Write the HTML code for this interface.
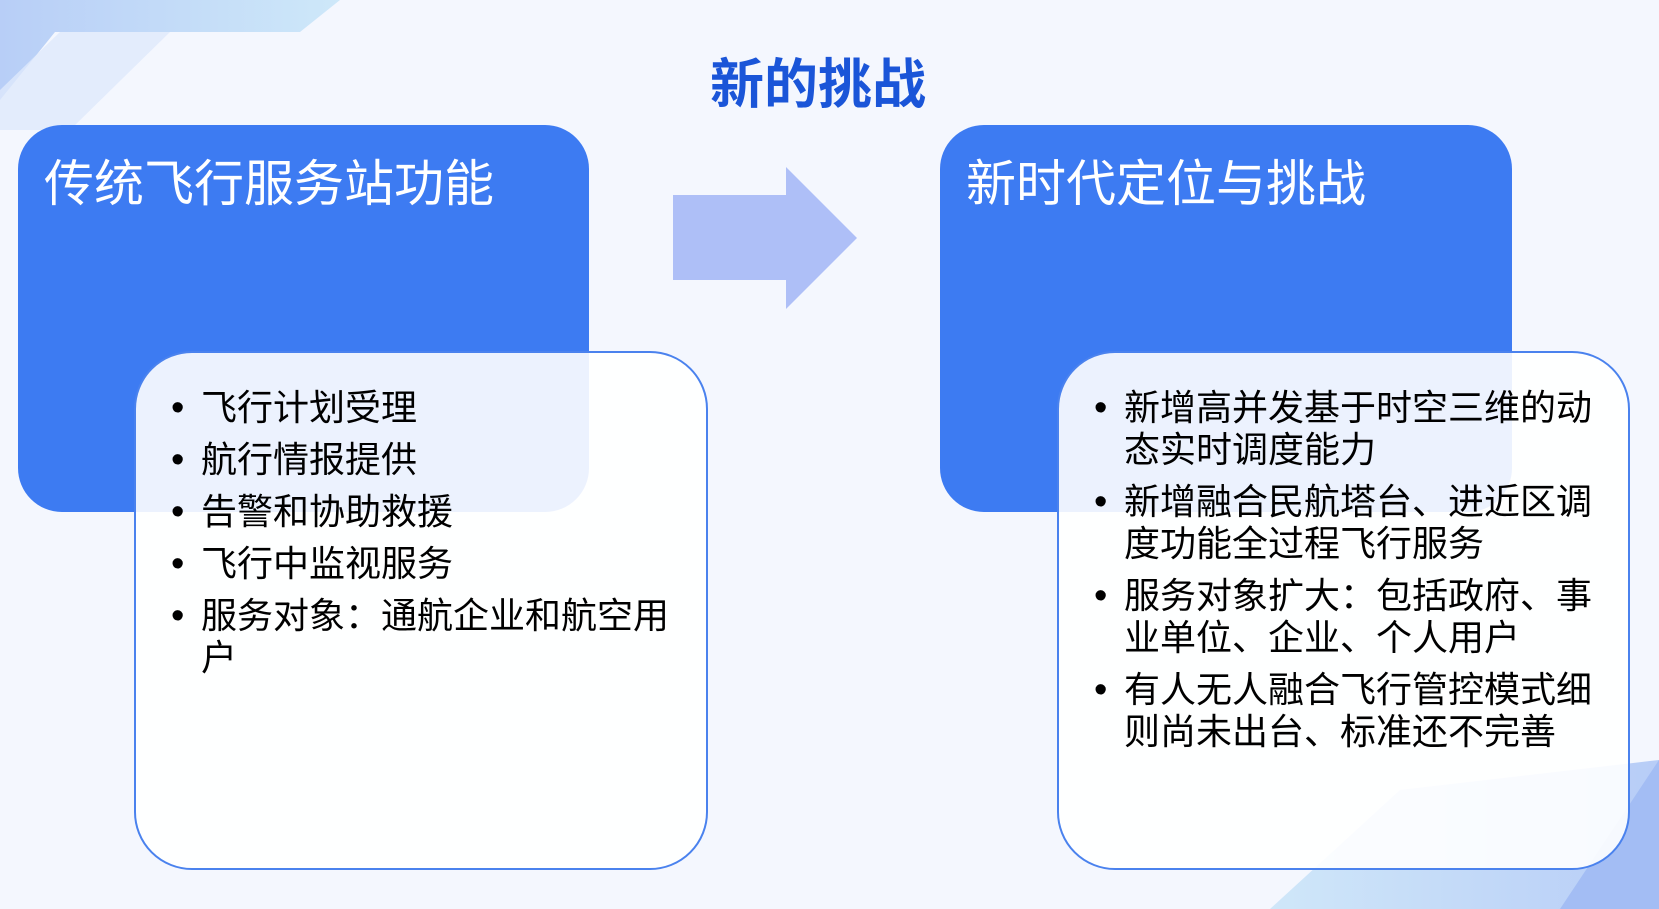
<!DOCTYPE html>
<html><head><meta charset="utf-8"><style>
*{margin:0;padding:0;box-sizing:border-box}
body{width:1659px;height:909px;overflow:hidden;background:#f4f7fe;position:relative;font-family:"Liberation Sans","Noto Sans CJK SC",sans-serif}
.abs{position:absolute}
.blue{background:#3d7bf2;border-radius:44px}
.white{background:rgba(255,255,255,0.9);border:2px solid #4a82ee;border-radius:58px}
.h{color:#fff;font-size:50px;position:absolute;white-space:nowrap}
ul{list-style:none;position:absolute;font-size:36px;color:#000}
li{position:relative;line-height:42px;margin-bottom:10px}
li:before{content:"•";position:absolute;left:-30px;font-size:38px}
</style></head><body>
<svg class="abs" style="left:0;top:0" width="1659" height="909">
<defs>
<linearGradient id="g1" x1="0" y1="0" x2="1" y2="0"><stop offset="0" stop-color="#a9c4f5"/><stop offset="1" stop-color="#c4e4f8"/></linearGradient>
<linearGradient id="g2" x1="0" y1="0" x2="1" y2="0"><stop offset="0" stop-color="#c6e3f8"/><stop offset="1" stop-color="#a8c2f5"/></linearGradient>
</defs>
<polygon points="0,0 340,0 300,32 55,32 0,100" fill="url(#g1)" opacity="0.8"/>
<polygon points="60,32 170,32 70,130 0,130 0,90" fill="#dfe9fb" opacity="0.8"/>
<polygon points="1270,909 1400,790 1659,760 1659,909" fill="url(#g2)" opacity="0.8"/>
<polygon points="1560,909 1659,760 1659,909" fill="#a3bdf4"/>
<polygon points="673,195 786,195 786,167 857,238 786,309 786,280 673,280" fill="#aebff7"/>
</svg>
<span class="abs" style="left:710px;top:40px;font-size:54px;font-weight:bold;color:#1a55d8;white-space:nowrap">新的挑战</span>
<div class="abs blue" style="left:18px;top:125px;width:571px;height:387px"></div>
<div class="abs blue" style="left:940px;top:125px;width:572px;height:387px"></div>
<div class="h" style="left:44px;top:144px">传统飞行服务站功能</div>
<div class="h" style="left:966px;top:144px">新时代定位与挑战</div>
<div class="abs white" style="left:134px;top:351px;width:574px;height:519px"></div>
<div class="abs white" style="left:1057px;top:351px;width:573px;height:519px"></div>
<ul style="left:201px;top:387px;width:475px">
<li>飞行计划受理</li><li>航行情报提供</li><li>告警和协助救援</li><li>飞行中监视服务</li><li>服务对象：通航企业和航空用户</li>
</ul>
<ul style="left:1124px;top:387px;width:475px">
<li>新增高并发基于时空三维的动态实时调度能力</li><li>新增融合民航塔台、进近区调度功能全过程飞行服务</li><li>服务对象扩大：包括政府、事业单位、企业、个人用户</li><li>有人无人融合飞行管控模式细则尚未出台、标准还不完善</li>
</ul>
</body></html>
